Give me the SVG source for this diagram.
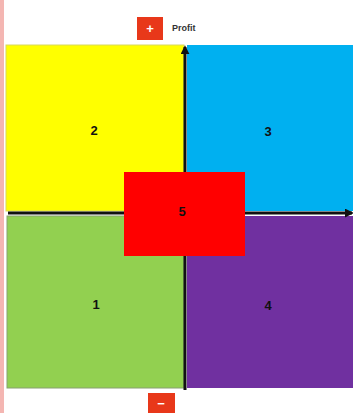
<svg xmlns="http://www.w3.org/2000/svg" width="353" height="413" viewBox="0 0 353 413">
<style>
.lbl{font-family:"Liberation Sans",Arial,sans-serif;font-size:13px;font-weight:bold;fill:#111;text-anchor:middle}
.ax{stroke:#111;stroke-width:3;fill:none}
</style>
<defs>
<marker id="ah" viewBox="0 0 10 10" refX="8" refY="5" markerWidth="3" markerHeight="3" orient="auto">
<path d="M0,0 L10,5 L0,10 z" fill="#111"/>
</marker>
</defs>
<rect x="0" y="0" width="353" height="413" fill="#ffffff"/>
<rect x="0" y="0" width="4" height="413" fill="#f4b6b2"/>
<g id="q2"><rect x="6" y="45" width="178" height="166" fill="#ffff00" stroke="#d8d860" stroke-width="1"/><text class="lbl" x="94" y="135">2</text></g>
<g id="q3"><rect x="187" y="45" width="166" height="166" fill="#00b0f0"/><text class="lbl" x="268" y="136">3</text></g>
<g id="q1"><rect x="7" y="216" width="177" height="172" fill="#92d050" stroke="#88a070" stroke-width="1"/><text class="lbl" x="96" y="309">1</text></g>
<g id="q4"><rect x="187" y="216" width="166" height="172" fill="#7030a0"/><text class="lbl" x="268" y="310">4</text></g>
<g id="connectors">
<line class="ax" x1="8" y1="213" x2="352" y2="213" marker-end="url(#ah)"/>
<line class="ax" x1="185" y1="390" x2="185" y2="47" marker-end="url(#ah)"/>
</g>
<g id="n5"><rect x="124" y="172" width="121" height="84" fill="#ff0000"/><text class="lbl" x="182" y="216" fill="#900">5</text></g>
<g id="plus"><rect x="137" y="17" width="26" height="23" fill="#e8381a"/><text class="lbl" x="150" y="33" style="fill:#fff">+</text></g>
<g id="profit"><text x="172" y="31" style="font-family:'Liberation Sans',Arial,sans-serif;font-size:9px;font-weight:bold;fill:#333">Profit</text></g>
<g id="minus"><rect x="148" y="393" width="27" height="20" fill="#e8381a"/><text class="lbl" x="161" y="408" style="fill:#fff">−</text></g>
</svg>
